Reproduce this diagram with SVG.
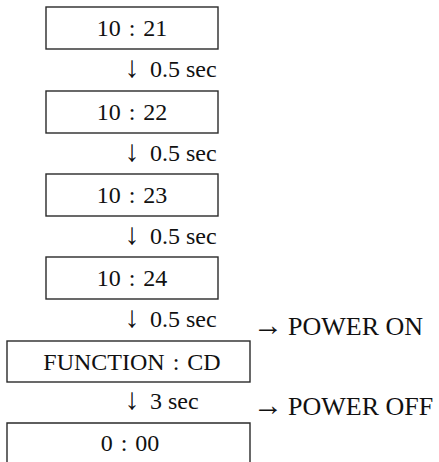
<svg xmlns="http://www.w3.org/2000/svg" width="439" height="462" viewBox="0 0 439 462">
<style>
.box{fill:none;stroke:#2a2a2a;stroke-width:1.4}
text{font-family:"Liberation Serif","DejaVu Serif","Times New Roman",serif;fill:#111;font-size:24px}
.m{text-anchor:middle}
.p{font-size:26px}
.a{font-size:30px}
</style>
<rect width="439" height="462" fill="#fff"/>
<g id="n1"><rect class="box" x="46" y="7" width="172" height="42"/><text class="m" x="132" y="36" word-spacing="2">10 : 21</text></g>
<g id="n2"><rect class="box" x="46" y="91" width="172" height="42"/><text class="m" x="132" y="120" word-spacing="2">10 : 22</text></g>
<g id="n3"><rect class="box" x="46" y="174" width="172" height="42"/><text class="m" x="132" y="203" word-spacing="2">10 : 23</text></g>
<g id="n4"><rect class="box" x="46" y="257" width="172" height="42"/><text class="m" x="132" y="286" word-spacing="2">10 : 24</text></g>
<g id="n5"><rect class="box" x="7" y="341" width="243" height="41"/><text class="m" x="132" y="370" font-size="25" word-spacing="2">FUNCTION : CD</text></g>
<g id="n6"><path class="box" d="M7,462 V423 H250 V462"/><text class="m" x="130" y="451" word-spacing="2">0 : 00</text></g>
<g id="connectors">
<text y="77"><tspan class="a" x="132" text-anchor="middle">↓</tspan><tspan x="150">0.5 sec</tspan></text>
<text y="161"><tspan class="a" x="132" text-anchor="middle">↓</tspan><tspan x="150">0.5 sec</tspan></text>
<text y="244"><tspan class="a" x="132" text-anchor="middle">↓</tspan><tspan x="150">0.5 sec</tspan></text>
<text y="327"><tspan class="a" x="132" text-anchor="middle">↓</tspan><tspan x="150">0.5 sec</tspan></text>
<text y="409"><tspan class="a" x="132" text-anchor="middle">↓</tspan><tspan x="150">3 sec</tspan></text>
<text class="p" y="335"><tspan class="a" x="253">→</tspan><tspan x="288">POWER ON</tspan></text>
<text class="p" y="415"><tspan class="a" x="253">→</tspan><tspan x="288">POWER OFF</tspan></text>
</g>
</svg>
